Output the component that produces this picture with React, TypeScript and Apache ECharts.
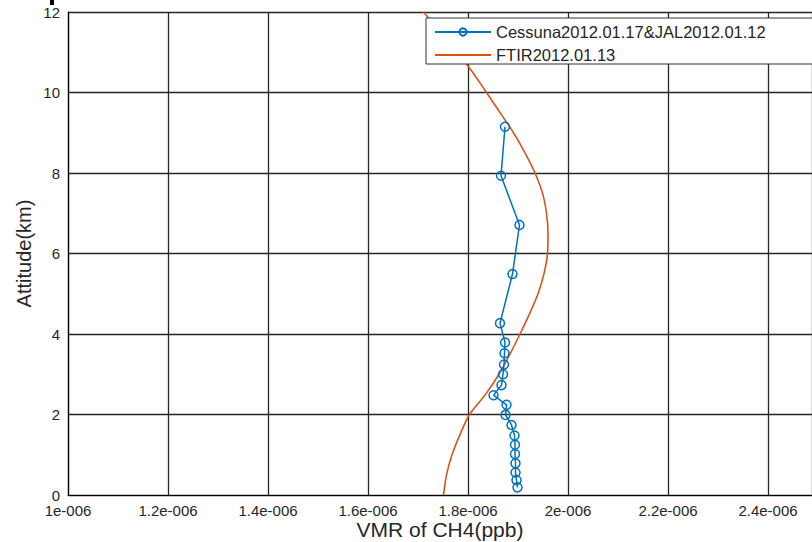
import React, { useEffect, useRef } from "react";
import * as echarts from "echarts";

// Blue series: aircraft profile (VMR, altitude km)
const cessunaAltitude = [9.15, 7.93, 6.71, 5.49, 4.27, 3.79, 3.52, 3.24, 3.0, 2.73, 2.48, 2.24, 1.99, 1.74, 1.48, 1.25, 1.02, 0.79, 0.56, 0.37, 0.19];
const cessunaVmr = [1.874e-6, 1.866e-6, 1.903e-6, 1.889e-6, 1.864e-6, 1.874e-6, 1.873e-6, 1.872e-6, 1.87e-6, 1.867e-6, 1.851e-6, 1.877e-6, 1.875e-6, 1.887e-6, 1.893e-6, 1.894e-6, 1.894e-6, 1.895e-6, 1.895e-6, 1.897e-6, 1.899e-6];

// Orange series: FTIR retrieved profile
const ftirAltitude = [0, 0.5, 1.0, 1.5, 2.0, 2.5, 3.0, 3.5, 4.0, 4.5, 5.0, 5.5, 6.0, 6.5, 7.0, 7.5, 8.0, 8.5, 9.0, 9.5, 10.0, 10.64, 12.0];
const ftirVmr = [1.751e-6, 1.757e-6, 1.768e-6, 1.784e-6, 1.803e-6, 1.835e-6, 1.862e-6, 1.884e-6, 1.904e-6, 1.923e-6, 1.94e-6, 1.952e-6, 1.959e-6, 1.96e-6, 1.957e-6, 1.949e-6, 1.934e-6, 1.914e-6, 1.891e-6, 1.864e-6, 1.837e-6, 1.801e-6, 1.711e-6];

const seriesNames = ["Cessuna2012.01.17&JAL2012.01.12", "FTIR2012.01.13"];
const xTitle = "VMR of CH4(ppb)";
const yTitle = "Attitude(km)";

const FONT = "'Liberation Sans', Arial, sans-serif";
const TXT = "#262626";

export default function App() {
  const ref = useRef<HTMLDivElement>(null);
  useEffect(() => {
    if (!ref.current) return;
    const chart = echarts.init(ref.current, null, { renderer: "svg" });
    const blue = cessunaVmr.map((v, i) => [v, cessunaAltitude[i]]);
    const orange = ftirVmr.map((v, i) => [v, ftirAltitude[i]]);
    chart.setOption({
      animation: false,
      backgroundColor: "#ffffff",
      textStyle: { fontFamily: FONT },
      grid: { left: 68, right: 0, top: 12, bottom: 47, containLabel: false, outerBoundsMode: "none" },
      xAxis: {
        type: "value",
        min: 1e-6,
        max: 2.488e-6,
        interval: 0.2e-6,
        name: xTitle,
        nameLocation: "middle",
        nameGap: 24,
        nameMoveOverlap: false,
        nameTextStyle: { fontSize: 21, color: TXT, fontFamily: FONT },
        axisLine: { show: true, lineStyle: { color: "#000", width: 1.2 } },
        axisTick: { show: false },
        splitLine: { show: true, lineStyle: { color: "#262626", width: 1.3 } },
        axisLabel: {
          fontSize: 15,
          lineHeight: 15,
          color: TXT,
          fontFamily: FONT,
          margin: 8,
          showMaxLabel: false,
          formatter: (v: number) => {
            const m = v * 1e6;
            if (Math.abs(m * 5 - Math.round(m * 5)) > 1e-6) return "";
            const r = Math.round(m * 10) / 10;
            return `${r}e-006`;
          },
        },
      },
      yAxis: {
        type: "value",
        min: 0,
        max: 12,
        interval: 2,
        name: yTitle,
        nameLocation: "middle",
        nameGap: 34,
        nameMoveOverlap: false,
        nameRotate: 90,
        nameTextStyle: { fontSize: 20, color: TXT, fontFamily: FONT },
        axisLine: { show: true, lineStyle: { color: "#000", width: 1.2 } },
        axisTick: { show: false },
        splitLine: { show: true, lineStyle: { color: "#262626", width: 1.3 } },
        axisLabel: { fontSize: 15, lineHeight: 13, color: TXT, fontFamily: FONT, margin: 8 },
      },
      legend: {
        orient: "vertical",
        left: 426,
        top: 18,
        padding: [5, 50, 0, 8],
        itemGap: 5,
        itemWidth: 56,
        itemHeight: 9,
        backgroundColor: "#ffffff",
        borderColor: "#333333",
        borderWidth: 1,
        z: 10,
        textStyle: { fontSize: 16.5, color: TXT, fontFamily: FONT, lineHeight: 18 },
        data: [
          { name: seriesNames[0] },
          { name: seriesNames[1], itemStyle: { opacity: 0 } },
        ],
      },
      graphic: [
        { type: "rect", left: 50, top: 0, shape: { x: 0, y: 0, width: 4, height: 5 }, style: { fill: "#000" } },
      ],
      series: [
        {
          name: seriesNames[0],
          type: "line",
          data: blue,
          symbol: "circle",
          symbolSize: 9,
          showAllSymbol: true,
          lineStyle: { color: "#0072BD", width: 1.5 },
          itemStyle: { color: "rgba(255,255,255,0)", borderColor: "#0072BD", borderWidth: 1.5 },
          z: 3,
        },
        {
          name: seriesNames[1],
          type: "line",
          data: orange,
          smooth: 0.3,
          symbol: "none",
          lineStyle: { color: "#D95319", width: 1.6 },
          itemStyle: { color: "#D95319" },
          z: 2,
        },
      ],
    });
    return () => chart.dispose();
  }, []);
  return <div ref={ref} style={{ position: "fixed", left: 0, top: 0, width: 812, height: 542 }} />;
}
